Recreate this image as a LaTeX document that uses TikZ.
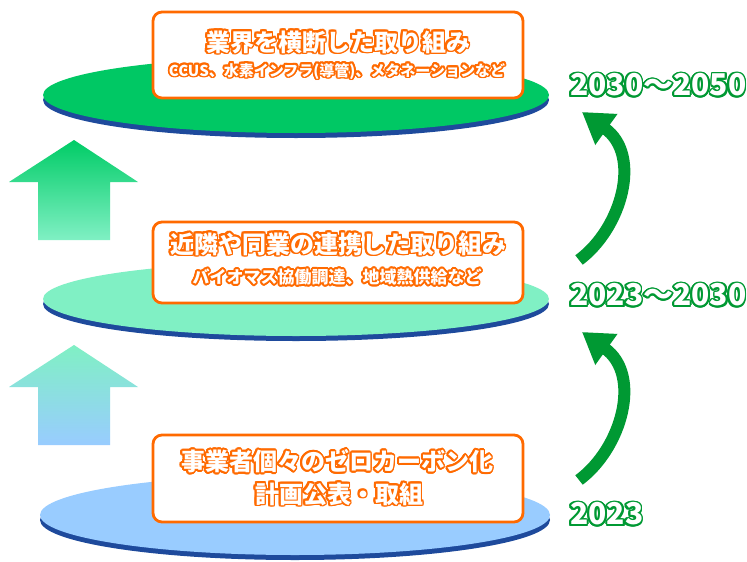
\documentclass[tikz,border=0pt]{standalone}
\usepackage{fontspec}
\setmainfont{Noto Sans CJK JP}
\usepackage{contour}
\usetikzlibrary{arrows.meta}
\definecolor{discgreen}{HTML}{00C864}
\definecolor{discmint}{HTML}{80F0C4}
\definecolor{discblue}{HTML}{99CCFF}
\definecolor{rimblue}{HTML}{1E4A9C}
\definecolor{boxorange}{HTML}{FF6A00}
\definecolor{yeargreen}{HTML}{009933}
\definecolor{arrowgreen}{HTML}{00CC66}
\contourlength{1.8pt}
\contournumber{16}
\begin{document}
\begin{tikzpicture}[x=1pt,y=-1pt,
  box/.style={draw=boxorange, line width=2.8pt, fill=white, rounded corners=9pt,
    minimum width=370pt, inner sep=0pt},
  title/.style={font=\bfseries\fontsize{24}{26}\selectfont, text=white, inner sep=0pt},
  subtitle/.style={font=\bfseries\fontsize{15}{17}\selectfont, text=white, inner sep=0pt},
  subtitleb/.style={font=\bfseries\fontsize{17}{19}\selectfont, text=white, inner sep=0pt},
  year/.style={font=\bfseries\fontsize{30}{32}\selectfont, text=white, inner sep=0pt, anchor=west},
  curvearrow/.style={draw=yeargreen, line width=12pt,
    -{Triangle[length=30pt,width=36pt]}}
]
\useasboundingbox (0,0) rectangle (747,562);
\fill[white] (0,0) rectangle (747,562);

% discs
\fill[rimblue] (295,520) ellipse [x radius=255, y radius=40];
\fill[discblue] (295,515) ellipse [x radius=255, y radius=40];
\fill[rimblue] (296,304) ellipse [x radius=253, y radius=37];
\fill[discmint] (296,299) ellipse [x radius=253, y radius=37];
\fill[rimblue] (296,100) ellipse [x radius=253, y radius=38];
\fill[discgreen] (296,95) ellipse [x radius=253, y radius=38];

% left arrows
\shade[top color=arrowgreen, bottom color=discmint]
  (74,140) -- (138,182) -- (110,182) -- (110,240) -- (38,240) -- (38,182) -- (9,182) -- cycle;
\shade[top color=discmint, bottom color=discblue]
  (74,345) -- (138,387) -- (110,387) -- (110,445) -- (38,445) -- (38,387) -- (9,387) -- cycle;

% boxes
\node[box, minimum height=86pt] (b1) at (338,55) {};
\node[box, minimum height=81pt] (b2) at (338,262.5) {};
\node[box, minimum height=87pt] (b3) at (338,478.5) {};

\node[title] (t1) at (338,43) {\contour{boxorange}{業界を横断した取り組み}};
\node[subtitle] (s1) at (337,72) {\contour{boxorange}{CCUS、水素インフラ(導管)、メタネーションなど}};
\node[title] (t2) at (338,245) {\contour{boxorange}{近隣や同業の連携した取り組み}};
\node[subtitleb] (s2) at (337,278) {\contour{boxorange}{バイオマス協働調達、地域熱供給など}};
\node[title] (t3) at (337,462) {\contour{boxorange}{事業者個々のゼロカーボン化}};
\node[title] (s3) at (339,495) {\contour{boxorange}{計画公表・取組}};

% years
\node[year] (y1) at (570,86) {\contour{yeargreen}{2030～2050}};
\node[year] (y2) at (570,296) {\contour{yeargreen}{2023～2030}};
\node[year] (y3) at (570,515) {\contour{yeargreen}{2023}};

% curved arrows
\coordinate (a1s) at (579,260);
\coordinate (a1e) at (582,112);
\coordinate (a2s) at (579,480);
\coordinate (a2e) at (582,332);
\draw[curvearrow] (a1s) .. controls (622,228) and (642,155) .. (a1e);
\draw[curvearrow] (a2s) .. controls (622,448) and (642,375) .. (a2e);
\end{tikzpicture}
\end{document}
